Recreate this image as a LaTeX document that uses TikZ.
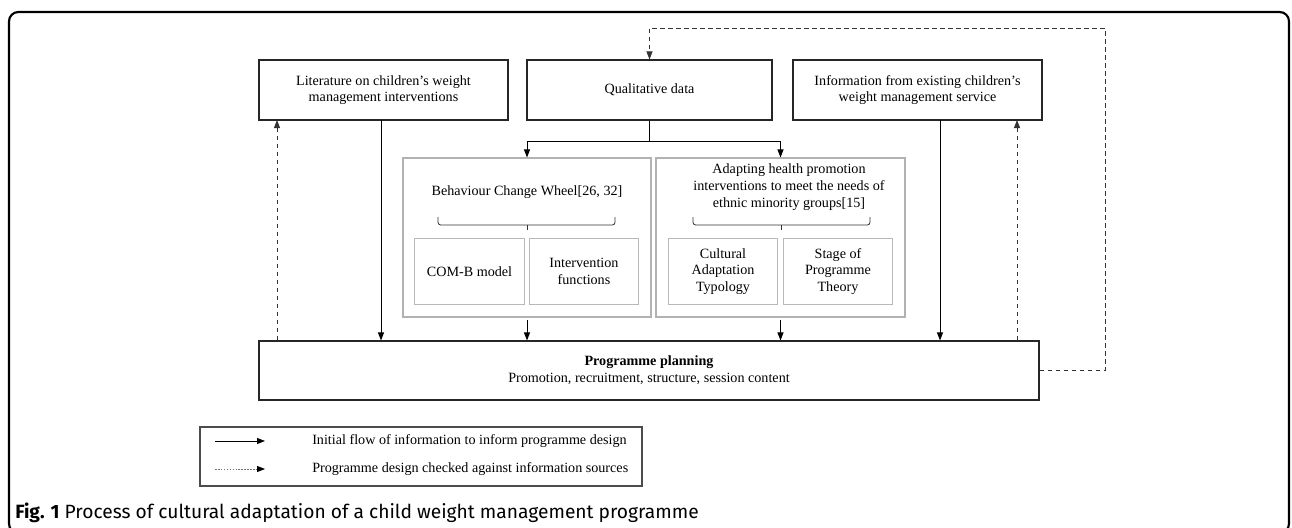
\documentclass[tikz,border=0pt]{standalone}
\usepackage{fontspec}
\setmainfont{Liberation Serif}
\newfontfamily\capfont{Fira Sans}
\usetikzlibrary{arrows.meta}

\begin{document}
\begin{tikzpicture}[
    x=0.75pt, y=-0.75pt,
    every node/.append style = {font=\fontsize{10.6}{12.5}\selectfont},
    srcbox/.style = {draw=black!85, line width=0.8pt, align=center, inner sep=0pt},
    grpbox/.style = {draw=black!30, line width=0.8pt, inner sep=0pt},
    subbox/.style = {draw=black!28, line width=0.6pt, align=center, inner sep=0pt,
                     minimum width=82pt, minimum height=50pt},
    flow/.style = {line width=0.7pt, -{Triangle[length=6pt,width=4.5pt]}},
    check/.style = {line width=0.7pt, black!80, dash pattern=on 3.5pt off 2.5pt,
                    -{Triangle[length=6pt,width=4.5pt]}},
    brc/.style = {line width=0.6pt, black!80, rounded corners=2pt},
  ]
  \useasboundingbox (0,0) rectangle (1292,528);
  %%+++++++++++++++++++++++++
  % Frame
  \draw[line width=1.6pt, rounded corners=7pt] (9,12) rectangle (1289,533);
  %%+++++++++++++++++++++++++
  % Information sources
  \node[srcbox, minimum width=186.75pt, minimum height=45pt] (lit) at (383.5,90)
    {Literature on children's weight\\management interventions};
  \node[srcbox, minimum width=183.75pt, minimum height=45pt] (qual) at (649.5,90)
    {Qualitative data};
  \node[srcbox, minimum width=186.75pt, minimum height=45pt] (info) at (917.5,90)
    {Information from existing children's\\weight management service};
  %%+++++++++++++++++++++++++
  % Frameworks
  \node[grpbox, minimum width=186pt, minimum height=119.25pt] (bcw) at (527,237.5) {};
  \node[grpbox, minimum width=186.75pt, minimum height=119.25pt] (aph) at (780.5,237.5) {};
  \node (bcwtitle) at (527,192) {Behaviour Change Wheel[26, 32]};
  \node[align=center] (aphtitle) at (789,187)
    {Adapting health promotion\\interventions to meet the needs of\\ethnic minority groups[15]};
  % Braces
  \draw[brc] (438,217) -- (438,225) -- (615,225) -- (615,217);
  \draw[brc] (527,225) -- (527,230);
  \draw[brc] (693,217) -- (693,225) -- (870,225) -- (870,217);
  \draw[brc] (781.5,225) -- (781.5,230);
  % Components
  \node[subbox] (comb) at (469.5,271.5) {COM-B model};
  \node[subbox] (ifun) at (584,271.5) {Intervention\\functions};
  \node[subbox] (cat) at (723,271.5) {Cultural\\Adaptation\\Typology};
  \node[subbox] (spt) at (838,271.5) {Stage of\\Programme\\Theory};
  %%+++++++++++++++++++++++++
  % Programme planning
  \node[srcbox, minimum width=585pt, minimum height=44.25pt] (plan) at (649,370.5)
    {\textbf{Programme planning}\\Promotion, recruitment, structure, session content};
  %%+++++++++++++++++++++++++
  % Arrows
  \coordinate (qsplit) at (649.5,141);
  \coordinate (litdown) at (381,120);
  \coordinate (litback) at (277,120);
  \coordinate (infodown) at (940,120);
  \coordinate (infoback) at (1017,120);
  \coordinate (loop) at (1105,28);
  \draw[line width=0.7pt] (qual.south) -- (qsplit);
  \draw[flow] (qsplit) -| (bcw.north);
  \draw[flow] (qsplit) -| (aph.north);
  \draw[flow] (litdown) -- (litdown |- plan.north);
  \draw[flow] (infodown) -- (infodown |- plan.north);
  \draw[flow, shorten <=2pt] (bcw.south) -- (bcw.south |- plan.north);
  \draw[flow, shorten <=2pt] (aph.south) -- (aph.south |- plan.north);
  \draw[check] (litback |- plan.north) -- (litback);
  \draw[check] (infoback |- plan.north) -- (infoback);
  \draw[check] (plan.east) -| (loop) -| (qual.north);
  %%+++++++++++++++++++++++++
  % Legend
  \node[draw=black!70, line width=0.9pt, minimum width=331.5pt, minimum height=44.25pt,
        inner sep=0pt] (legend) at (421,456.5) {};
  \coordinate (solidA) at (215,441);
  \coordinate (solidB) at (265,441);
  \coordinate (dashA) at (215,469);
  \coordinate (dashB) at (265,469);
  \draw[flow] (solidA) -- (solidB);
  \draw[line width=0.6pt, black!55, dash pattern=on 1.2pt off 1pt,
        -{Triangle[length=6pt,width=4.5pt,black]}] (dashA) -- (dashB);
  \node[anchor=west, inner sep=0pt] (solidtxt) at (312,441)
    {Initial flow of information to inform programme design};
  \node[anchor=west, inner sep=0pt] (dashtxt) at (312,469)
    {Programme design checked against information sources};
  %%+++++++++++++++++++++++++
  % Caption
  \node[anchor=base west, inner sep=0pt, font=\capfont\fontsize{14.4}{16}\selectfont]
    (caption) at (15,518)
    {\textbf{Fig. 1} Process of cultural adaptation of a child weight management programme};
\end{tikzpicture}
\end{document}
